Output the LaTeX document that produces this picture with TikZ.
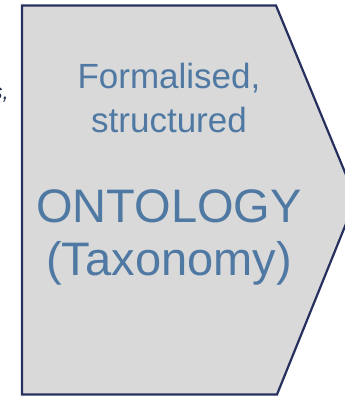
\documentclass[tikz,border=0pt]{standalone}
\usepackage{fontspec}
\setmainfont{Liberation Sans}
\begin{document}
\definecolor{labelblue}{HTML}{4F79A3}
\definecolor{edgenavy}{HTML}{262F5E}
\definecolor{boxgray}{HTML}{D9D9D9}
\definecolor{inkdark}{HTML}{1F2A4A}
\begin{tikzpicture}[x=1bp,y=-1bp,
  stagebox/.style={draw=edgenavy,fill=boxgray,line width=2.2bp,line join=miter},
  smalltext/.style={text=labelblue,inner sep=0pt,anchor=base,font=\fontsize{35bp}{40bp}\selectfont},
  bigtext/.style={text=labelblue,inner sep=0pt,anchor=base,font=\fontsize{47bp}{52bp}\selectfont}]
  \useasboundingbox (0,0) rectangle (345,396);
  \clip (0,0) rectangle (345,396);
  % tail of the neighbouring caption, cut by the page edge
  \node[text=inkdark,inner sep=0pt,anchor=base east,font=\fontsize{22bp}{24bp}\selectfont\itshape] (tail) at (9,99) {s,};
  % pentagon arrow shape
  \draw[stagebox] (22,5.5) -- (276,5.5) -- (356,199) -- (277,394.5) -- (22,394.5) -- cycle;
  \node[smalltext] (l1) at (169,88) {Formalised,};
  \node[smalltext] (l2) at (169,132) {structured};
  \node[bigtext] (l3) at (169,222) {ONTOLOGY};
  \node[bigtext] (l4) at (169,275) {(Taxonomy)};
\end{tikzpicture}
\end{document}
